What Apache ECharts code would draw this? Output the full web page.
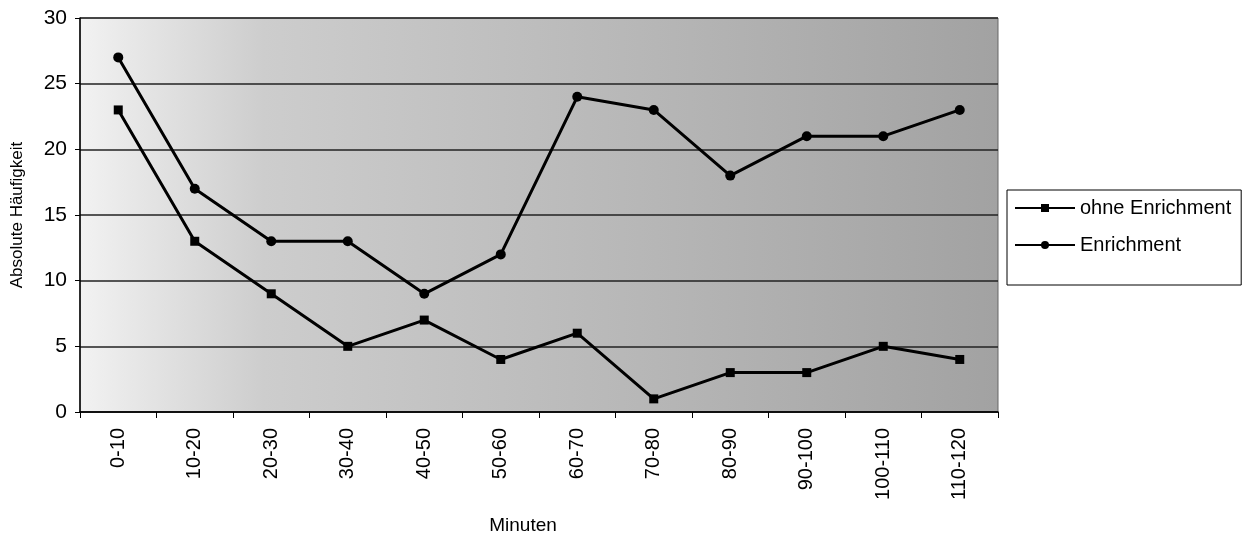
<!DOCTYPE html>
<html>
<head>
<meta charset="utf-8">
<script src="https://cdn.jsdelivr.net/npm/echarts@6/dist/echarts.min.js"></script>
<style>
  html, body { margin: 0; padding: 0; background: #fff; }
  #chart { width: 1251px; height: 540px; }
</style>
</head>
<body>
<div id="chart"></div>
<script>
// Time bins (minutes)
const categories = ['0-10', '10-20', '20-30', '30-40', '40-50', '50-60', '60-70', '70-80', '80-90', '90-100', '100-110', '110-120'];
// Absolute frequencies per bin
const ohneEnrichment = [23, 13, 9, 5, 7, 4, 6, 1, 3, 3, 5, 4];
const enrichment = [27, 17, 13, 13, 9, 12, 24, 23, 18, 21, 21, 23];
const yTicks = { min: 0, max: 30, interval: 5 };

const font = 'Liberation Sans, Arial, sans-serif';
const chart = echarts.init(document.getElementById('chart'), null, { renderer: 'canvas' });

chart.setOption({
  animation: false,
  backgroundColor: '#ffffff',
  grid: {
    left: 80, right: 253, top: 18, bottom: 128,
    outerBoundsMode: 'none',
    containLabel: false,
    show: true,
    backgroundColor: {
      type: 'linear', x: 0, y: 0, x2: 1, y2: 0,
      colorStops: [
        { offset: 0, color: '#f2f2f2' },
        { offset: 0.2, color: '#cdcdcd' },
        { offset: 1, color: '#a2a2a2' }
      ]
    },
    borderColor: '#666',
    borderWidth: 1
  },
  legend: {
    orient: 'vertical',
    left: 1007, top: 190,
    backgroundColor: '#ffffff',
    borderColor: '#000',
    borderWidth: 1,
    borderRadius: 0,
    padding: [8, 10, 30, 7],
    itemGap: 17,
    itemWidth: 60,
    itemHeight: 10,
    textStyle: { fontFamily: font, fontSize: 20, color: '#000' },
    data: ['ohne Enrichment', 'Enrichment']
  },
  xAxis: {
    type: 'category',
    data: categories,
    boundaryGap: true,
    name: 'Minuten',
    nameLocation: 'middle',
    nameGap: 104,
    nameTextStyle: { fontFamily: font, fontSize: 19, color: '#000', padding: [0, 32, 0, 0] },
    axisLine: { lineStyle: { color: '#000', width: 1.5 } },
    axisTick: { show: true, alignWithLabel: false, length: 6, lineStyle: { color: '#000' } },
    axisLabel: { rotate: 90, interval: 0, margin: 16, fontFamily: font, fontSize: 20, color: '#000' },
    splitLine: { show: false }
  },
  yAxis: {
    type: 'value',
    min: yTicks.min, max: yTicks.max, interval: yTicks.interval,
    name: 'Absolute Häufigkeit',
    nameLocation: 'middle',
    nameGap: 54,
    nameRotate: 90,
    nameTextStyle: { fontFamily: font, fontSize: 17, color: '#000' },
    axisLine: { show: true, lineStyle: { color: '#000', width: 1.5 } },
    axisTick: { show: true, length: 5, lineStyle: { color: '#000' } },
    axisLabel: { margin: 13, fontFamily: font, fontSize: 21, color: '#000' },
    splitLine: { show: true, lineStyle: { color: '#222', width: 1.5 } }
  },
  series: [
    {
      name: 'ohne Enrichment',
      type: 'line',
      data: ohneEnrichment,
      symbol: 'rect',
      symbolSize: 9,
      lineStyle: { color: '#000', width: 3 },
      itemStyle: { color: '#000' }
    },
    {
      name: 'Enrichment',
      type: 'line',
      data: enrichment,
      symbol: 'circle',
      symbolSize: 10,
      lineStyle: { color: '#000', width: 3 },
      itemStyle: { color: '#000' }
    }
  ]
});
</script>
</body>
</html>
